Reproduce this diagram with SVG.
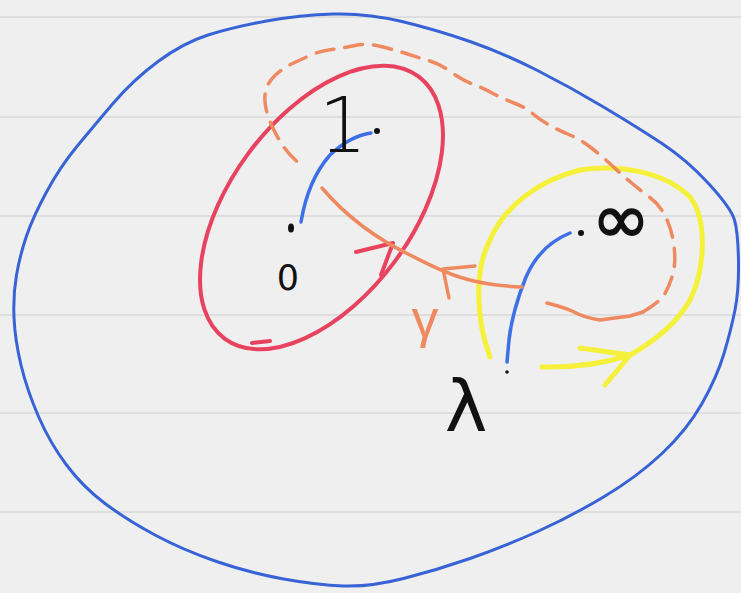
<svg xmlns="http://www.w3.org/2000/svg" width="741" height="593" viewBox="0 0 741 593">
<style>
.rule{stroke:#d9d9d9;stroke-width:1.5}
.ink{fill:none;stroke-linecap:round;stroke-linejoin:round}
.sphere{stroke:#3763d6;stroke-width:3}
.red{stroke:#e8435e;stroke-width:4}
.yel{stroke:#f5f03a;stroke-width:5}
.org{stroke:#ef8a60;stroke-width:3.5}
.blu{stroke:#3d6fe6;stroke-width:3.5}
.lbl{fill:#111;font-family:"DejaVu Sans","Liberation Sans",sans-serif}
.dot{fill:#111}
</style>
<rect width="741" height="593" fill="#efefef"/>
<g id="paper">
<line class="rule" x1="0" y1="17" x2="741" y2="17"/>
<line class="rule" x1="0" y1="117" x2="741" y2="117"/>
<line class="rule" x1="0" y1="216" x2="741" y2="216"/>
<line class="rule" x1="0" y1="315" x2="741" y2="315"/>
<line class="rule" x1="0" y1="413" x2="741" y2="413"/>
<line class="rule" x1="0" y1="512" x2="741" y2="512"/>
</g>
<g id="sphere">
<path class="ink sphere" d="M266.5,21 Q300,15 333.5,14 Q367,13 402,21.5 Q437,30 470,41.5 Q503,53 536.5,70 Q570,87 603.5,107 Q637,127 662,143.5 Q687,160 709,184 Q731,208 734.5,220 Q738,232 738.5,261 Q739,290 735,310 Q731,330 724,353.5 Q717,377 702,403.5 Q687,430 662,453.5 Q637,477 603.5,497 Q570,517 536.5,532 Q503,547 470,558.5 Q437,570 403.5,578.5 Q370,587 343.5,586 Q317,585 283.5,579 Q250,573 216.5,561.5 Q183,550 155,535 Q127,520 105,503.5 Q83,487 66.5,465 Q50,443 38.5,416.5 Q27,390 21,365 Q15,340 14,317.5 Q13,295 16.5,275 Q20,255 26.5,236 Q33,217 46.5,192 Q60,167 76.5,147 Q93,127 113,103.5 Q133,80 158,61.5 Q183,43 208,35 Q233,27 266.5,21 Z"/>
</g>
<g id="loop-red">
<ellipse class="ink red" cx="321.5" cy="207.5" rx="163" ry="91" transform="rotate(-53.5 321.5 207.5)"/>
<path class="ink red" d="M252,343 L270,341"/>
<path class="ink red" d="M356,252 L393,243 L381,275"/>
</g>
<g id="loop-yellow">
<path class="ink yel" d="M490,357 C476,320 474,270 490,240 C505,205 540,180 580,170 C620,164 665,172 690,197 C708,220 705,270 690,300 C680,318 660,338 630,355"/>
<path class="ink yel" d="M542,367 Q590,368 630,355"/>
<path class="ink yel" d="M580,348 L630,355 L605,385"/>
</g>
<g id="paths">
<path class="ink blu" d="M301,222 Q308,180 330,155 Q350,136 371,133"/>
<path class="ink blu" d="M570,233 Q540,245 526,277 Q512,312 509,340 L507,362"/>
<path class="ink org" d="M322,188 C345,215 375,238 410,255 C440,270 465,285 522,287"/>
<path class="ink org" d="M475,266 L443,269 L449,298"/>
<path class="ink org" d="M547,303 Q563,307 572,311 Q585,318 600,320 Q615,318 630,316 L643,312"/>
<path class="ink org" stroke-width="3" stroke-dasharray="18 11" d="M643,312 Q660,302 665,293.5 Q670,285 673,273.5 Q676,262 674,246 Q672,230 666,217.5 Q660,205 650,197.5 Q640,190 631,182.5 Q622,175 612.5,166 Q603,157 591.5,148 Q580,139 570,135 Q560,131 550,125.5 Q540,120 532.5,113.5 Q525,107 514,103 Q503,99 493,93.5 Q483,88 472.5,84 Q462,80 451,72 Q440,64 430,61 Q420,58 407.5,54 Q395,50 381,46.5 Q367,43 355,45.5 Q343,48 331.5,49.5 Q320,51 310,55.5 Q300,60 291.5,64 Q283,68 275.5,75 Q268,82 266,89.5 Q264,97 265.5,106 Q267,115 272,126 Q277,137 283.5,146.5 Q290,156 300,164"/>
</g>
<g id="points">
<ellipse class="dot" cx="291" cy="228" rx="3" ry="4.5"/>
<circle class="dot" cx="377" cy="131" r="3"/>
<circle class="dot" cx="581" cy="233" r="3"/>
<circle class="dot" cx="507" cy="372" r="1.8"/>
</g>
<g id="labels">
<text class="lbl" x="343" y="152" font-size="76" font-weight="200" text-anchor="middle">1</text>
<text class="lbl" x="288" y="290" font-size="35" text-anchor="middle">0</text>
<text class="lbl" x="621" y="243" font-size="70" text-anchor="middle" stroke="#111" stroke-width="1.5">∞</text>
<text class="lbl" x="466" y="431" font-size="72" text-anchor="middle" font-family="Liberation Sans">λ</text>
<text x="425" y="337" font-size="54" text-anchor="middle" fill="#ef8a60" font-family="Liberation Sans, sans-serif">γ</text>
</g>
</svg>
